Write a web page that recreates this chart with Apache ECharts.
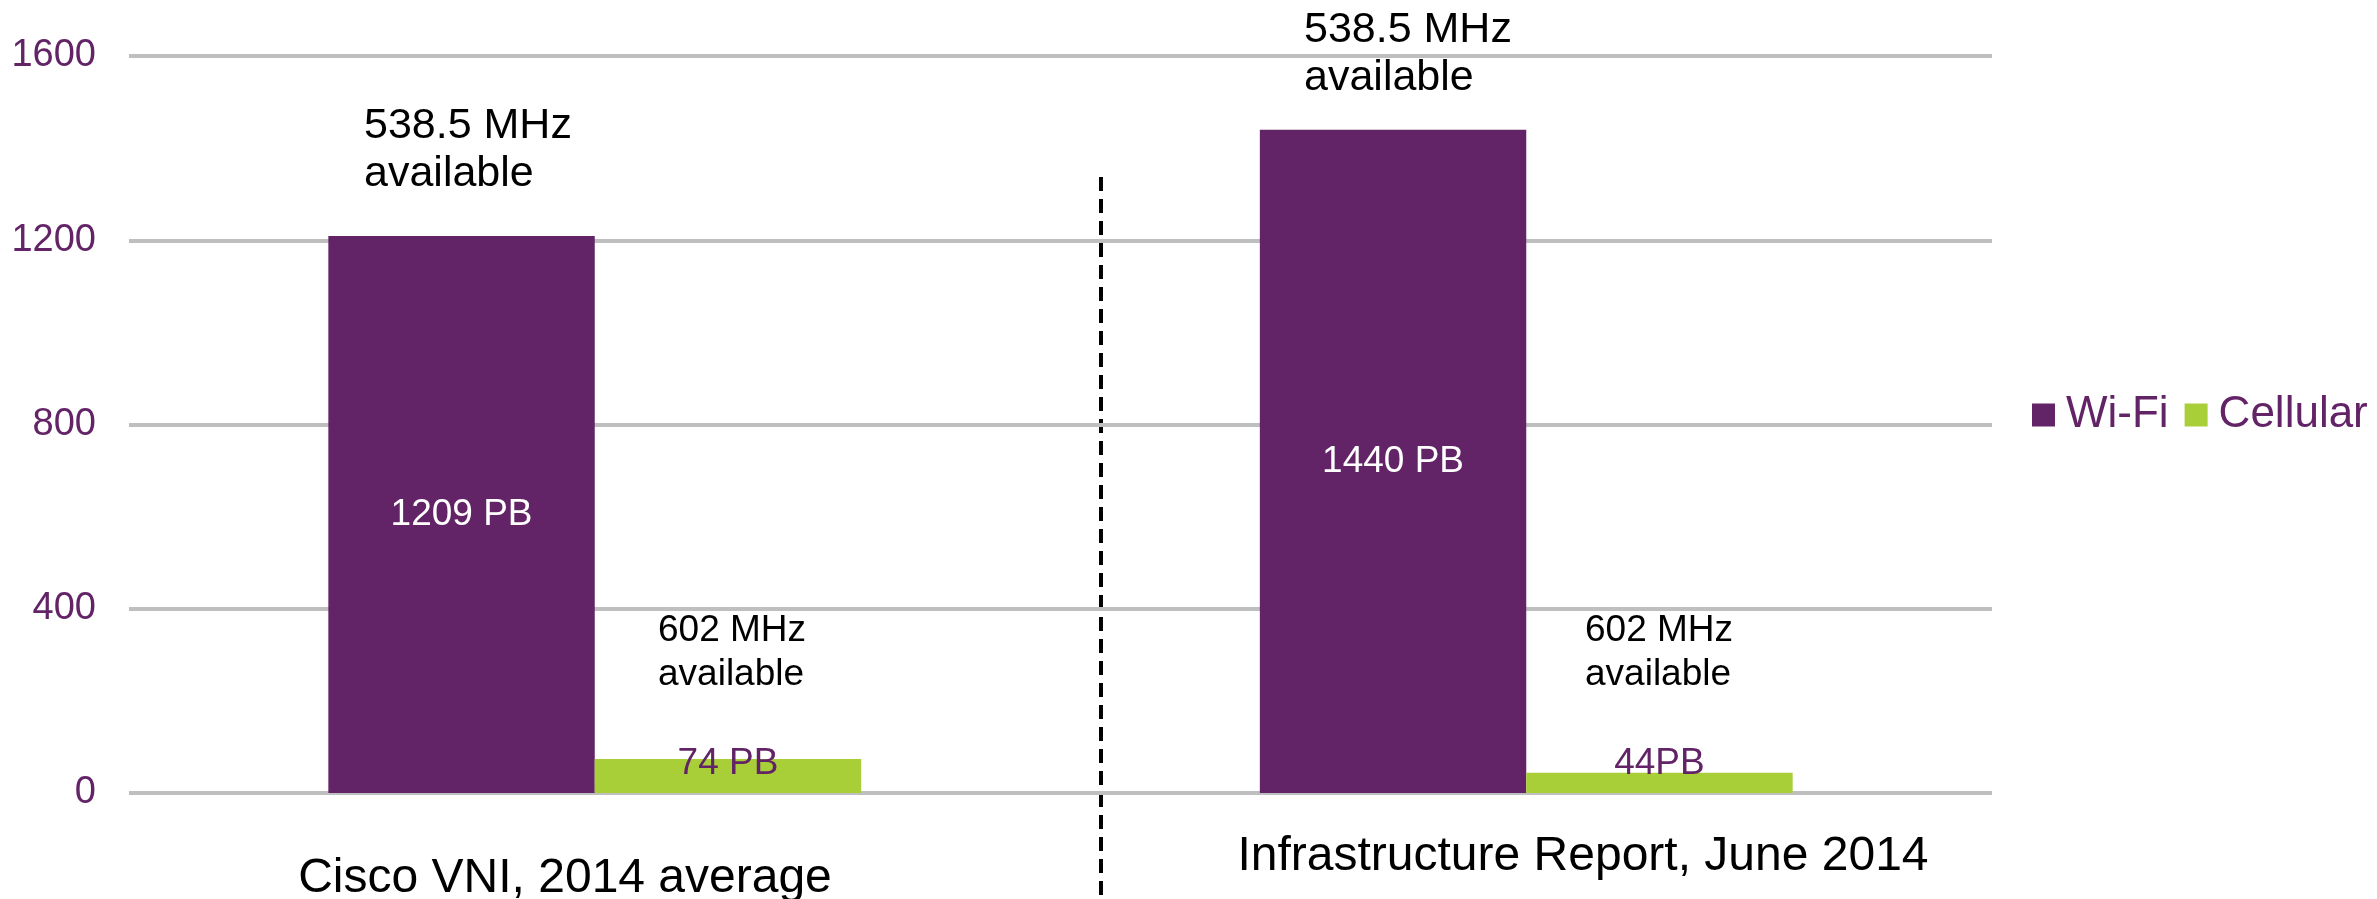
<!DOCTYPE html>
<html>
<head>
<meta charset="utf-8">
<script src="https://cdn.jsdelivr.net/npm/echarts@6/dist/echarts.min.js"></script>
<style>
  html, body { margin: 0; padding: 0; background: #fff; }
  #main { width: 2377px; height: 899px; }
</style>
</head>
<body>
<div id="main"></div>
<script>
// data
var categories = ['Cisco VNI, 2014 average', 'Infrastructure Report, June 2014'];
var wifiValues = [1209, 1440];
var cellularValues = [74, 44];
var wifiLabels = ['1209 PB', '1440 PB'];
var cellularLabels = ['74 PB', '44PB'];
var yTicks = [0, 400, 800, 1200, 1600];

var purple = '#622466';
var green = '#A8CE38';
var font = '"Liberation Sans", Arial, sans-serif';

var chart = echarts.init(document.getElementById('main'));

var option = {
    backgroundColor: '#fff',
    animation: false,
    textStyle: { fontFamily: font },
    grid: { left: 129, right: 385, top: 56, bottom: 106 },
    legend: {
        data: ['Wi-Fi', 'Cellular'],
        left: 2027,
        top: 386,
        icon: 'rect',
        itemWidth: 23,
        itemHeight: 23,
        itemGap: 16,
        textStyle: { fontSize: 44, color: purple, fontFamily: font, padding: [0, 0, 0, 6], lineHeight: 48 }
    },
    xAxis: {
        type: 'category',
        data: categories,
        axisLine: { show: false },
        axisTick: { show: false },
        axisLabel: { show: false }
    },
    yAxis: {
        type: 'value',
        min: yTicks[0],
        max: yTicks[yTicks.length - 1],
        interval: 400,
        axisLine: { show: false },
        axisTick: { show: false },
        axisLabel: {
            fontSize: 38, color: purple, margin: 33, fontFamily: font,
            formatter: function (v) { return String(v); }
        },
        splitLine: { lineStyle: { color: '#BFBFBF', width: 4 } }
    },
    series: [
        {
            name: 'Wi-Fi',
            type: 'bar',
            data: wifiValues,
            barWidth: '28.6%',
            barGap: '0%',
            itemStyle: { color: purple },
            label: {
                show: true,
                position: 'inside',
                fontSize: 37,
                color: '#fff',
                fontFamily: font,
                formatter: function (p) { return wifiLabels[p.dataIndex]; }
            }
        },
        {
            name: 'Cellular',
            type: 'bar',
            data: cellularValues,
            barWidth: '28.6%',
            itemStyle: { color: green },
            label: {
                show: true,
                position: 'insideBottom',
                distance: 11,
                fontSize: 37,
                color: purple,
                fontFamily: font,
                formatter: function (p) { return cellularLabels[p.dataIndex]; }
            }
        }
    ],
    graphic: [
        {
            type: 'line',
            shape: { x1: 1101, y1: 177, x2: 1101, y2: 899 },
            style: { stroke: '#000', lineWidth: 4, lineDash: [14, 8] }
        },
        {
            type: 'text', left: 364, top: 102,
            style: { text: '538.5 MHz\navailable', font: '43px ' + font, lineHeight: 48, fill: '#000' }
        },
        {
            type: 'text', left: 1304, top: 6,
            style: { text: '538.5 MHz\navailable', font: '43px ' + font, lineHeight: 48, fill: '#000' }
        },
        {
            type: 'text', left: 658, top: 609,
            style: { text: '602 MHz\navailable', font: '37px ' + font, lineHeight: 44, fill: '#000' }
        },
        {
            type: 'text', left: 1585, top: 609,
            style: { text: '602 MHz\navailable', font: '37px ' + font, lineHeight: 44, fill: '#000' }
        },
        {
            type: 'text', x: 565, y: 879,
            style: { text: categories[0], font: '48px ' + font, fill: '#000', textAlign: 'center', textVerticalAlign: 'middle' }
        },
        {
            type: 'text', x: 1583, y: 857,
            style: { text: categories[1], font: '48px ' + font, fill: '#000', textAlign: 'center', textVerticalAlign: 'middle' }
        }
    ]
};

chart.setOption(option);
</script>
</body>
</html>
